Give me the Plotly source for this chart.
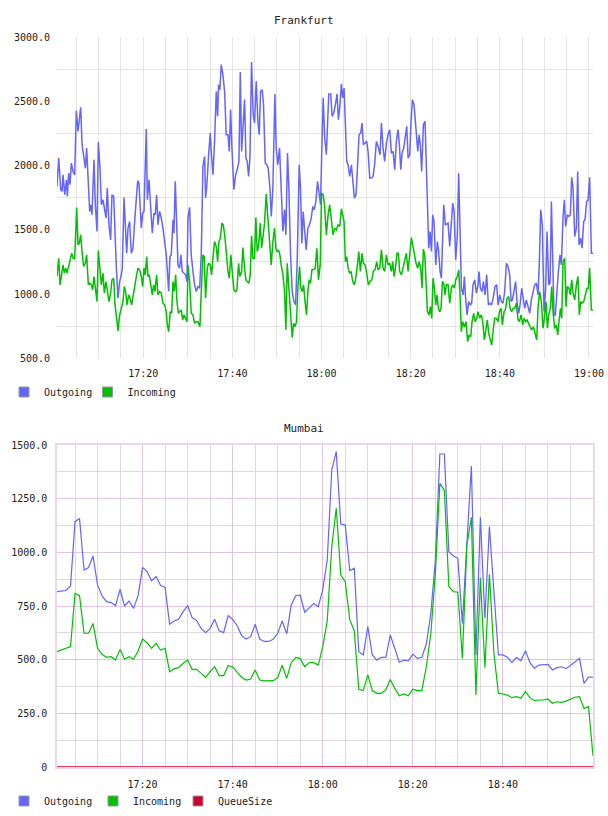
import datetime as dt
import plotly.graph_objects as go

# ---------------- data ----------------
BASE = dt.datetime(2024, 1, 1, 17, 0, 0)

# Frankfurt: sample times (seconds after 17:00) and values
FRA_OUT_SEC = [39,62,89,107,120,143,165,178,196,214,
    232,255,277,299,322,340,358,376,403,421,
    438,456,479,492,510,537,555,577,595,618,
    636,658,681,699,716,739,761,779,802,815,
    838,860,882,905,918,941,959,977,995,1017,
    1039,1062,1084,1107,1125,1142,1156,1174,1192,1210,
    1241,1255,1277,1299,1322,1344,1362,1380,1398,1420,
    1443,1465,1488,1510,1542,1559,1577,1600,1613,1631,
    1649,1667,1690,1707,1725,1748,1770,1788,1802,1824,
    1846,1869,1891,1914,1936,1959,1981,2003,2026,2039,
    2057,2080,2102,2115,2138,2160,2183,2201,2214,2232,
    2250,2272,2295,2317,2340,2358,2376,2394,2420,2443,
    2465,2488,2506,2524,2546,2564,2582,2600,2618,2636,
    2658,2680,2698,2721,2743,2761,2779,2802,2819,2842,
    2864,2882,2905,2923,2945,2972,2990,3012,3035,3057,
    3080,3102,3120,3142,3160,3183,3205,3228,3250,3272,
    3299,3317,3335,3353,3371,3393,3416,3438,3461,3483,
    3501,3524,3546,3568,3586,3604,3622,
    3643,3665,3697,3724,3742,3764,3787,3809,3827,3849,
    3867,3885,3903,3921,3939,3957,3979,4002,4020,4042,
    4065,4083,4105,4127,4145,4163,4186,4208,4226,4249,
    4271,4293,4316,4338,4361,4388,4406,4428,4450,4473,
    4495,4518,4540,4563,4585,4607,4630,4648,4666,4684,
    4706,4729,4747,4765,4787,4805,4823,4845,4863,4881,
    4895,4913,4930,4948,4971,4993,5011,5025,5043,5061,
    5079,5096,5114,5137,5159,5177,5195,5213,5231,5245,
    5267,5289,5303,5325,5348,5366,5384,5406,5428,5446,
    5464,5482,5505,5523,5536,5559,5581,5603,5621,5639,
    5662,5684,5707,5720,5738,5760,5778,5801,5823,5846,
    5868,5890,5913,5935,5958,5976,5998,6021,6043,6065,
    6088,6110,6133,6151,6169,6191,6213,6231,6254,6272,
    6294,6317,6335,6357,6379,6402,6424,6447,6469,6492,
    6514,6532,6550,6572,6595,6617,6635,6658,6676,6694,
    6711,6729,6747,6770,6788,6810,6828,6850,6868,6886,
    6909,6931,6949,6967,6985,7008,7030,7048,7066,7088,
    7106,7129,7146,7169,7187,7209,7232,7254]
FRA_OUTGOING = [1838,2058,1812,1799,1928,1773,1889,1760,1941,1851,
    2019,1954,1928,2427,2266,2357,2453,2162,2032,1980,
    2136,1877,1643,1695,1617,2045,1695,1487,2183,1980,
    1695,1734,1669,1591,1825,1539,1422,1773,1760,1487,
    1202,968,1098,1150,1202,1752,1565,1318,1513,1565,
    1318,1357,1565,1747,1882,1864,1721,1513,1630,1643,
    2284,1734,1889,1669,1474,1630,1617,1773,1539,1643,
    1591,1513,1422,1305,1020,1292,1305,1578,1474,1877,
    1565,1227,1202,1305,1176,1163,1150,1098,1591,1674,
    1305,1176,1072,1020,1059,1046,1305,1993,2071,1747,
    1851,2084,2253,2110,1928,2188,2577,2383,2629,2590,
    2785,2707,2577,2240,2240,2110,2435,2136,1812,1928,
    1967,2032,2728,2110,2305,2513,2058,2032,1915,2058,
    2806,2396,2331,2655,2344,2240,2577,2590,2474,2019,
    2006,1980,1825,1604,1825,2557,2136,2006,2136,1825,
    1487,1656,1461,2097,1825,1305,1020,942,916,1253,
    2006,1825,1396,1643,1487,1344,1513,1539,1591,1682,
    1656,1721,1877,1747,1695,2136,2526,
    2214,2084,2557,2557,2383,2409,2474,2557,2357,2474,
    2635,2526,2603,2214,2032,2006,1915,2006,1851,1747,
    1773,2006,2240,2253,2331,2162,2175,2188,2110,1903,
    1903,1915,2019,2188,2149,2084,2331,2136,2032,2175,
    2240,2279,2097,2110,1967,2188,2279,2162,1967,2097,
    2136,2214,2305,2058,2084,2344,2513,2474,2318,2240,
    2110,2240,2162,1954,2318,2344,1954,1643,1357,1487,
    1331,1617,1565,1227,1409,1331,1176,1124,1591,1695,
    1539,1552,1552,1370,1565,1708,1643,1266,1461,1941,
    1513,1046,994,1137,994,838,942,916,929,1072,
    1111,1007,1072,1176,1046,1020,1098,994,1150,916,
    929,916,981,1059,1072,916,994,942,929,1020,
    1240,1215,1150,942,955,1046,1098,942,851,916,
    1046,955,890,955,890,851,955,1020,1072,1085,
    994,1253,1656,1539,864,1046,1487,1072,1085,1721,
    1331,838,838,1072,1176,1305,1227,1591,1734,1526,
    1617,1604,1617,1908,1825,1448,1513,1954,1383,1435,
    1357,1565,1578,1721,1729,1908,1318,1318]

FRA_IN_SEC = [39,62,80,98,120,138,156,174,192,214,
    237,255,277,304,322,340,358,376,398,421,
    438,461,479,501,519,537,560,577,595,618,
    636,658,676,699,716,739,761,779,802,820,
    842,860,882,905,927,945,963,981,1003,1021,
    1044,1066,1084,1107,1129,1151,1174,1192,1210,1228,
    1246,1264,1281,1304,1322,1340,1358,1380,1398,1420,
    1443,1465,1488,1510,1524,1542,1564,1582,1600,1618,
    1636,1654,1672,1690,1712,1730,1748,1770,1788,1802,
    1824,1846,1869,1891,1914,1936,1963,1981,2003,2021,
    2039,2062,2080,2102,2120,2142,2160,2183,2201,2219,
    2237,2259,2277,2299,2317,2340,2358,2380,2398,2420,
    2443,2461,2483,2501,2524,2541,2564,2582,2600,2622,
    2640,2658,2676,2698,2716,2734,2752,2775,2793,2815,
    2833,2855,2878,2900,2923,2945,2967,2985,3003,3021,
    3039,3057,3080,3102,3120,3138,3160,3183,3205,3223,
    3245,3263,3281,3304,3322,3340,3358,3376,3398,3416,
    3434,3452,3470,3492,3515,3537,3559,3582,3600,3622,3640,
    3665,3688,3710,3733,3755,3778,3800,3822,3845,3867,
    3885,3903,3921,3939,3957,3979,3997,4020,4042,4060,
    4083,4101,4123,4145,4163,4186,4208,4231,4253,4276,
    4298,4320,4343,4361,4383,4406,4428,4450,4473,4495,
    4518,4540,4558,4576,4594,4616,4634,4652,4675,4697,
    4720,4742,4765,4787,4809,4832,4850,4872,4895,4913,
    4935,4953,4971,4989,5007,5025,5047,5065,5083,5101,
    5119,5137,5155,5173,5191,5209,5227,5245,5262,5280,
    5303,5325,5348,5366,5388,5406,5428,5446,5464,5482,
    5500,5523,5545,5567,5585,5608,5626,5648,5666,5689,
    5707,5729,5751,5769,5792,5810,5832,5850,5873,5890,
    5913,5931,5953,5976,5994,6016,6034,6057,6075,6097,
    6119,6137,6160,6182,6200,6222,6245,6263,6285,6308,
    6326,6348,6366,6388,6406,6429,6451,6469,6496,6514,
    6536,6559,6581,6599,6622,6640,6658,6680,6698,6716,
    6738,6761,6779,6797,6815,6833,6851,6873,6891,6909,
    6931,6949,6967,6985,7008,7030,7052,7070,7088,7106,
    7129,7151,7174,7191,7209,7232,7254]
FRA_INCOMING = [1137,1279,1072,1150,1227,1163,1202,1163,1202,1253,
    1318,1279,1274,1674,1383,1396,1461,1331,1215,1240,
    1305,1072,1085,1072,1033,1137,1007,942,1339,1202,
    1072,1163,1007,1098,1033,942,1007,1111,1124,916,
    812,714,838,890,942,1059,1020,916,994,968,
    916,994,1072,1137,1202,1189,1137,1059,1202,1150,
    1292,1137,1150,1046,994,1072,1020,1150,994,1020,
    1007,929,916,864,760,708,864,851,1098,1020,
    1150,942,851,864,877,799,838,812,786,1227,
    1098,851,838,773,786,786,747,1020,1305,1292,
    968,1202,1240,1227,1150,1305,1409,1370,1253,1409,
    1435,1552,1539,1448,1305,1176,1124,1305,1176,1033,
    1020,1033,1240,1137,1176,1362,1202,1111,1098,1085,
    1150,1453,1279,1279,1596,1331,1370,1552,1357,1461,
    1552,1778,1578,1383,1227,1409,1513,1357,1331,1344,
    1305,1227,1150,1020,721,1240,1072,890,662,773,
    747,786,1046,1215,1046,1020,1072,955,838,1020,
    1111,1085,1189,1189,1202,1357,1111,1227,1786,1773,1695,
    1461,1617,1695,1565,1461,1513,1500,1539,1526,1664,
    1617,1565,1253,1292,1202,1163,1176,1098,1072,1124,
    1227,1331,1176,1318,1240,1227,1163,1072,1098,1111,
    1181,1189,1253,1189,1202,1344,1202,1176,1305,1227,
    1240,1176,1253,1137,1202,1318,1318,1176,1150,1202,
    1253,1318,1176,1305,1440,1370,1305,1240,1202,1253,
    1202,1046,1350,1305,1098,864,838,903,812,1124,
    1046,916,994,890,864,890,1098,1085,994,1072,
    1072,929,1046,1072,1046,1111,1137,1189,994,708,
    786,747,786,630,682,669,786,851,786,812,
    864,812,838,786,643,734,799,695,630,604,
    734,812,812,786,864,890,760,864,877,968,
    981,890,864,890,890,929,799,786,838,760,
    812,786,799,760,747,721,747,708,643,890,
    1020,942,734,812,942,734,838,890,1059,864,
    734,760,682,786,890,812,1253,1279,903,1059,
    1046,994,1111,1007,955,1072,1137,838,942,929,
    942,994,1046,1046,1202,877,877]

# Mumbai: one sample per minute, 17:01 .. 19:00
MUM_MINUTES = list(range(1, 121))
MUM_OUTGOING = [817,820,822,843,1143,1158,918,929,983,848,
    797,770,766,752,828,750,773,739,798,930,
    910,868,887,845,837,665,680,688,724,752,
    696,682,646,626,646,689,634,626,705,688,
    658,612,596,607,665,596,585,585,595,623,
    680,620,755,798,800,721,742,762,747,825,
    964,1384,1469,1132,1127,915,926,537,522,654,
    522,498,511,511,615,553,488,498,494,526,
    506,511,573,716,964,1458,1458,1003,983,972,
    669,1042,1402,522,1163,693,1120,817,522,522,
    511,486,511,495,542,486,460,475,475,478,
    452,463,467,458,473,489,506,390,419,418]
MUM_INCOMING = [537,545,553,561,809,798,623,623,669,553,
    525,511,514,498,548,502,514,502,540,596,
    579,553,576,545,553,444,457,463,483,498,
    455,455,436,418,444,467,426,426,472,467,
    441,418,405,410,452,405,401,401,402,416,
    474,413,486,511,505,467,486,486,475,561,
    680,1026,1205,894,863,685,635,362,356,429,
    356,343,343,359,408,366,332,340,332,362,
    356,356,467,623,902,1321,1290,840,817,814,
    506,1034,1163,335,882,463,898,530,343,340,
    335,323,328,320,351,323,309,312,312,317,
    297,304,301,307,315,325,328,273,281,51]
MUM_QUEUESIZE = [0,0,0,0,0,0,0,0,0,0,0,0,0,0,0,0,0,0,0,0,
    0,0,0,0,0,0,0,0,0,0,0,0,0,0,0,0,0,0,0,0,
    0,0,0,0,0,0,0,0,0,0,0,0,0,0,0,0,0,0,0,0,
    0,0,0,0,0,0,0,0,0,0,0,0,0,0,0,0,0,0,0,0,
    0,0,0,0,0,0,0,0,0,0,0,0,0,0,0,0,0,0,0,0,
    0,0,0,0,0,0,0,0,0,0,0,0,0,0,0,0,0,0,0,0]

FRA_YTICKS = [500, 1000, 1500, 2000, 2500, 3000]
FRA_YTICKTEXT = ["500.0", "1000.0", "1500.0", "2000.0", "2500.0", "3000.0"]
MUM_YTICKS = [0, 250, 500, 750, 1000, 1250, 1500]
MUM_YTICKTEXT = ["0", "250.0", "500.0", "750.0", "1000.0", "1250.0", "1500.0"]
SERIES_NAMES = ["Outgoing", "Incoming", "QueueSize"]

# ---------------- styling ----------------
C_OUT = "#6464ff"
C_IN = "#00c000"
C_Q = "#cc0033"
FONT = "DejaVu Sans Mono"
TXT = "#222222"
GRAY = "#e4e4e4"
MGRAY = "#dcdcdc"
PINK = "#e4c4e4"


def t(sec):
    return BASE + dt.timedelta(seconds=sec)

fra_out_x = [t(s) for s in FRA_OUT_SEC]
fra_in_x = [t(s) for s in FRA_IN_SEC]
mum_x = [t(60 * m) for m in MUM_MINUTES]

fig = go.Figure()
fig.add_trace(go.Scatter(x=fra_out_x, y=FRA_OUTGOING, mode="lines", name=SERIES_NAMES[0],
                         line=dict(color=C_OUT, width=1.5), xaxis="x", yaxis="y", showlegend=False))
fig.add_trace(go.Scatter(x=fra_in_x, y=FRA_INCOMING, mode="lines", name=SERIES_NAMES[1],
                         line=dict(color=C_IN, width=1.5), xaxis="x", yaxis="y", showlegend=False))
fig.add_trace(go.Scatter(x=mum_x, y=MUM_QUEUESIZE, mode="lines", name=SERIES_NAMES[2],
                         line=dict(color=C_Q, width=1.4), xaxis="x2", yaxis="y2", showlegend=False))
fig.add_trace(go.Scatter(x=mum_x, y=MUM_OUTGOING, mode="lines", name=SERIES_NAMES[0],
                         line=dict(color=C_OUT, width=1.2), xaxis="x2", yaxis="y2", showlegend=False))
fig.add_trace(go.Scatter(x=mum_x, y=MUM_INCOMING, mode="lines", name=SERIES_NAMES[1],
                         line=dict(color=C_IN, width=1.2), xaxis="x2", yaxis="y2", showlegend=False))

top_fra = 37.0
bot_fra = 358.4
top_mum = 445.0
bot_mum = 767.0
H = 816
span = bot_mum - top_fra

def py(pix):
    return (bot_mum - pix) / span

def px(pix):
    return (pix - 57) / 536

# legend swatches (square boxes like the original), one legend per entry so
# each entry can sit where the original put it
legend_specs = [
    # (legend id, series name, colour, swatch centre x in px, row centre y in px)
    ("legend", SERIES_NAMES[0], C_OUT, 24.0, 392),
    ("legend2", SERIES_NAMES[1], C_IN, 107.5, 392),
    ("legend3", SERIES_NAMES[0], C_OUT, 24.0, 801),
    ("legend4", SERIES_NAMES[1], C_IN, 113.0, 801),
    ("legend5", SERIES_NAMES[2], C_Q, 198.0, 801),
]
legend_layout = {}
for leg, nm, col, cx, cy in legend_specs:
    fig.add_trace(go.Scatter(x=[None], y=[None], mode="markers", name=nm, legend=leg,
                             marker=dict(symbol="square", size=10, color=col,
                                         line=dict(color="#999999", width=1)),
                             xaxis="x", yaxis="y", showlegend=True))
    legend_layout[leg] = dict(orientation="h", x=px(cx - 20), xanchor="left",
                              y=py(cy), yanchor="middle",
                              font=dict(family=FONT, size=10, color=TXT),
                              bgcolor="rgba(0,0,0,0)", borderwidth=0,
                              itemclick=False, itemdoubleclick=False)

minor_fra_x = dict(dtick=5 * 60 * 1000, tick0=BASE, showgrid=True, gridcolor=GRAY, gridwidth=1)
mum_major = [BASE + dt.timedelta(minutes=m) for m in (20, 40, 60, 80, 100)]
mum_minor = [BASE + dt.timedelta(minutes=m) for m in range(5, 120, 5) if m % 20]

axis_font = dict(family=FONT, size=10, color=TXT)

fig.update_layout(
    width=608, height=H,
    margin=dict(l=57, r=15, t=int(top_fra), b=int(H - bot_mum), autoexpand=False),
    paper_bgcolor="white", plot_bgcolor="white",
    font=dict(family=FONT, size=10, color=TXT),
    xaxis=dict(domain=[0, 1], anchor="y", type="date",
               range=[t(39), t(7254)], tickformat="%H:%M",
               dtick=20 * 60 * 1000, tick0=BASE,
               showgrid=True, gridcolor=GRAY, gridwidth=1,
               minor=minor_fra_x, zeroline=False, showline=False,
               ticks="", tickfont=axis_font, ticklabelstandoff=8),
    yaxis=dict(domain=[py(bot_fra), 1], anchor="x", range=[500, 3000],
               tickmode="array", tickvals=FRA_YTICKS, ticktext=FRA_YTICKTEXT,
               showgrid=False, zeroline=False, showline=False,
               minor=dict(tickmode="array", tickvals=[750, 1250, 1750, 2250, 2750],
                          showgrid=True, gridcolor=GRAY, gridwidth=1),
               ticks="", tickfont=axis_font, ticklabelstandoff=6),
    xaxis2=dict(domain=[0, 1], anchor="y2", type="date",
                range=[t(60), t(7200)], tickformat="%H:%M",
                tickmode="array", tickvals=mum_major,
                showgrid=True, gridcolor=PINK, gridwidth=1,
                minor=dict(tickmode="array", tickvals=mum_minor, showgrid=True,
                           gridcolor=MGRAY, gridwidth=1),
                zeroline=False, showline=True, linecolor="#ecd6ec", linewidth=1.5, mirror=True,
                ticks="", tickfont=axis_font, ticklabelstandoff=7),
    yaxis2=dict(domain=[0, py(top_mum)], anchor="x2", range=[0, 1500],
                tickmode="array", tickvals=MUM_YTICKS, ticktext=MUM_YTICKTEXT,
                showgrid=True, gridcolor=PINK, gridwidth=1,
                minor=dict(tickmode="array", tickvals=[125, 375, 625, 875, 1125, 1375],
                           showgrid=True, gridcolor=MGRAY, gridwidth=1),
                zeroline=False, showline=True, linecolor="#ecd6ec", linewidth=1.5, mirror=True,
                ticks="", tickfont=axis_font, ticklabelstandoff=6),
    annotations=[
        dict(text="Frankfurt", xref="paper", yref="paper", x=px(304), y=py(20),
             xanchor="center", yanchor="middle", showarrow=False,
             font=dict(family=FONT, size=11, color=TXT)),
        dict(text="Mumbai", xref="paper", yref="paper", x=px(304), y=py(428),
             xanchor="center", yanchor="middle", showarrow=False,
             font=dict(family=FONT, size=11, color=TXT)),
    ],
    **legend_layout,
)

fig.write_html("out.html")
